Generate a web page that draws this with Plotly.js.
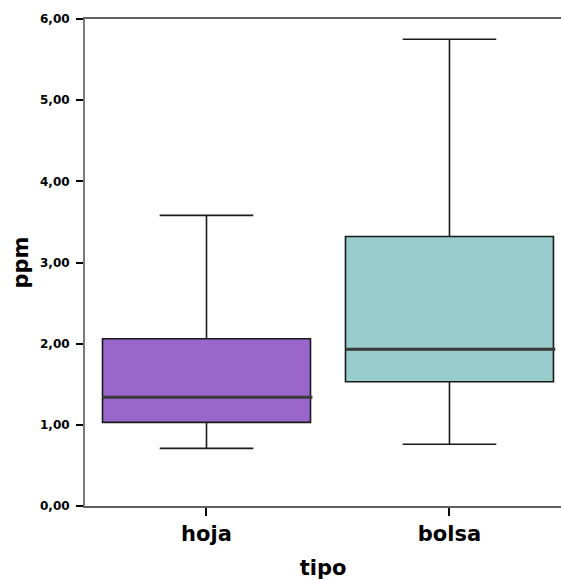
<!DOCTYPE html>
<html>
<head>
<meta charset="utf-8">
<script src="https://cdn.plot.ly/plotly-3.0.1.min.js"></script>
<style>html,body{margin:0;padding:0;background:#fff;overflow:hidden}</style>
</head>
<body>
<div id="chart" style="width:561px;height:580px"></div>
<script>
// Data
const categories = ['hoja', 'bolsa'];
const lowerWhisker = [0.71, 0.76];
const q1Values = [1.03, 1.53];
const medianValues = [1.34, 1.93];
const q3Values = [2.06, 3.32];
const upperWhisker = [3.58, 5.75];
const yTickValues = [0, 1, 2, 3, 4, 5, 6];

const fills = ['#9966CC', '#99CCCC'];
const boxWidth = 0.856;

const traces = [];
categories.forEach((c, i) => {
  traces.push({
    type: 'box',
    name: c,
    x: [i],
    q1: [q1Values[i]],
    median: [medianValues[i]],
    q3: [q3Values[i]],
    lowerfence: [lowerWhisker[i]],
    upperfence: [upperWhisker[i]],
    width: boxWidth,
    whiskerwidth: 0.45,
    fillcolor: fills[i],
    line: {color: '#1a1a1a', width: 1.6},
    boxpoints: false,
    hoverinfo: 'skip',
    showlegend: false
  });
});
// thicker median lines, drawn from the median values
categories.forEach((c, i) => {
  traces.push({
    type: 'scatter',
    mode: 'lines',
    x: [i - boxWidth / 2, i + boxWidth / 2 + 0.008],
    y: [medianValues[i], medianValues[i]],
    line: {color: '#3a3a3a', width: 3},
    hoverinfo: 'skip',
    showlegend: false
  });
});

const layout = {
  width: 561,
  height: 580,
  margin: {l: 85, r: 0, t: 19, b: 74},
  paper_bgcolor: '#ffffff',
  plot_bgcolor: '#ffffff',
  separators: ',.',
  font: {family: 'DejaVu Sans', color: '#000'},
  xaxis: {
    range: [-0.5, 1.459],
    tickvals: [0, 1],
    ticktext: categories,
    showgrid: false,
    zeroline: false,
    showline: true,
    linecolor: '#606060',
    linewidth: 2,
    mirror: true,
    ticks: 'outside',
    ticklen: 8,
    tickwidth: 2,
    tickcolor: '#000',
    tickfont: {family: 'DejaVu Sans', size: 21, weight: 'bold', color: '#000'},
    title: {text: 'tipo', font: {family: 'DejaVu Sans', size: 21, weight: 'bold', color: '#000'}, standoff: 16},
    fixedrange: true
  },
  yaxis: {
    range: [0, 6],
    tickvals: yTickValues,
    tickformat: '.2f',
    showgrid: false,
    zeroline: false,
    showline: true,
    linecolor: '#7a7a7a',
    linewidth: 2,
    ticks: 'outside',
    ticklen: 7,
    tickwidth: 2,
    tickcolor: '#000',
    ticklabelstandoff: 4,
    tickfont: {family: 'DejaVu Sans', size: 12, weight: 'bold', color: '#000'},
    title: {text: 'ppm', font: {family: 'DejaVu Sans', size: 21, weight: 'bold', color: '#000'}, standoff: 6},
    fixedrange: true
  }
};

Plotly.newPlot('chart', traces, layout, {displayModeBar: false, staticPlot: true});
</script>
</body>
</html>
